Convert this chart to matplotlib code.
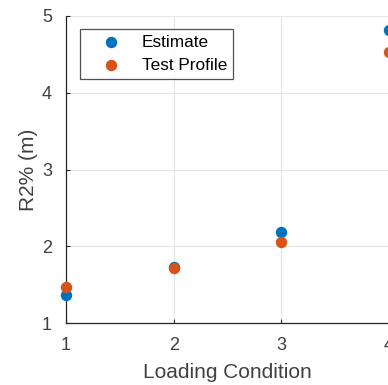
import matplotlib
matplotlib.use("Agg")
import matplotlib.pyplot as plt

# --- Data ---
conditions = [1, 2, 3, 4]
estimate = [1.37, 1.73, 2.19, 4.82]
test_profile = [1.47, 1.72, 2.05, 4.53]

C_BLUE = '#0072BD'
C_ORANGE = '#D95319'
AX_COLOR = '#262626'
TXT_COLOR = '#404040'

plt.rcParams['font.family'] = ['Liberation Sans', 'DejaVu Sans']

fig = plt.figure(figsize=(3.88, 3.85), dpi=100)
ax = fig.add_axes([66 / 388, 62 / 385, 323 / 388, 307 / 385])

ax.scatter(conditions, estimate, s=52, color=C_BLUE, label='Estimate', zorder=3, clip_on=False)
ax.scatter(conditions, test_profile, s=52, color=C_ORANGE, label='Test Profile', zorder=3, clip_on=False)

ax.set_xlim(1, 4)
ax.set_ylim(1, 5)
ax.set_xticks(conditions)
ax.set_yticks([1, 2, 3, 4, 5])

ax.grid(True, color='#e6e6e6', linewidth=0.8)
ax.set_axisbelow(True)
for side in ['top', 'right']:
    ax.spines[side].set_visible(False)
for side in ['left', 'bottom']:
    ax.spines[side].set_color(AX_COLOR)
    ax.spines[side].set_linewidth(0.9)

ax.tick_params(direction='in', length=3, width=0.8, colors=AX_COLOR,
               labelsize=13, labelcolor=TXT_COLOR, pad=10)

ax.set_xlabel('Loading Condition', fontsize=15, color=TXT_COLOR)
ax.set_ylabel('R2% (m)', fontsize=15, color=TXT_COLOR)
ax.xaxis.set_label_coords(0.5, -0.130)
ax.yaxis.set_label_coords(-0.087, 0.5)

leg = ax.legend(loc='upper left', bbox_to_anchor=(0.043, 0.958), borderaxespad=0,
                prop={'size': 12.4}, fancybox=False, frameon=True,
                handlelength=2.9, handletextpad=0.35, borderpad=0.35,
                labelspacing=0.45, scatterpoints=1)
leg.get_frame().set_edgecolor(AX_COLOR)
leg.get_frame().set_linewidth(0.9)

fig.savefig('out.png', dpi=100)
